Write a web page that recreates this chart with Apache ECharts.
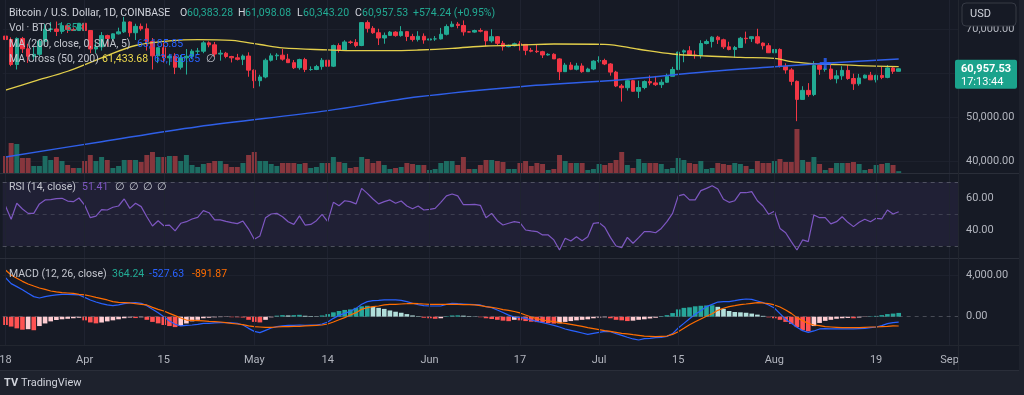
<!DOCTYPE html>
<html><head><meta charset="utf-8">
<script src="https://cdn.jsdelivr.net/npm/echarts/dist/echarts.min.js"></script>
<style>html,body{margin:0;padding:0;background:#161a25;}#c{width:1024px;height:395px;}</style>
</head><body><div id="c"></div>
<script>
// ---------- DATA ----------
const firstDay = '2024-03-18';
const categoryCount = 169; // Mar 18 .. Sep 2 (empty days on the right)
const categories = [];
(function () {
  const d0 = Date.parse(firstDay + 'T00:00:00Z');
  for (let k = 0; k < categoryCount; k++) categories.push(new Date(d0 + k * 86400000).toISOString().slice(0, 10));
})();

const tickLabels = [['2024-03-18','18'],['2024-04-01','Apr'],['2024-04-15','15'],['2024-05-01','May'],['2024-05-14','14'],['2024-06-01','Jun'],['2024-06-17','17'],['2024-07-01','Jul'],['2024-07-15','15'],['2024-08-01','Aug'],['2024-08-19','19'],['2024-09-01','Sep']];

// daily [open, high, low, close] from Mar 18
const ohlc = [
[68390,68950,66600,67600],[67600,68100,61550,61930],[61930,68100,60800,67850],[67850,68200,64550,65500],[65500,66650,62300,63800],[63800,65950,63000,64250],[64250,67600,63800,67200],
[67200,71150,66400,69950],[69950,71550,69300,70000],[70000,71700,68400,69450],[69450,71550,68900,70750],[70750,70900,69100,69900],[69900,70350,69550,69650],[69650,71350,69600,71300],
[71300,71300,68100,69650],[69650,69650,64500,65450],[65450,66900,64500,65950],[65950,69300,65100,68500],[68500,68700,66000,67850],[67850,69000,67450,68900],[68900,70300,68750,69350],
[69350,72750,69100,71600],[71600,71750,68250,69150],[69150,71200,67500,70600],[70600,71250,69600,70050],[70050,71250,65100,67150],[67150,67950,60800,63900],[63900,65800,62250,65750],
[65750,66900,62350,63450],[63450,64350,61750,63800],[63800,64500,59750,61300],[61300,64100,60800,63450],[63450,65450,59650,63800],[63800,65400,63150,64950],[64950,65700,64300,64950],
[64950,67250,64500,66850],[66850,67200,65850,66400],[66400,67050,63650,64300],[64300,65250,62800,64500],[64500,64800,63350,63750],[63750,63900,62400,63450],[63450,64350,62850,63100],
[63100,64200,61800,63850],[63850,64700,59150,60650],[60650,60800,56550,58250],[58250,59600,56950,59100],[59100,63300,58800,62900],[62900,64450,62600,63900],[63900,64500,62950,64050],
[64050,65450,62800,63150],[63150,64350,62350,62350],[62350,62950,60900,61200],[61200,63250,60750,63050],[63050,63450,60200,60800],[60800,61500,60500,60800],[60800,61850,60650,61450],
[61450,63400,60750,62900],[62900,63100,60800,61550],[61550,66450,61350,66250],[66250,66750,64650,65250],[65250,67450,65150,67050],[67050,67400,66600,66950],[66950,67700,65850,66250],
[66250,71500,66100,71450],[71450,71950,69200,70150],[70150,70650,68900,69150],[69150,70050,66350,67950],[67950,69200,66650,68550],[68550,69550,68500,69300],[69300,69500,68250,68500],
[68500,70650,68250,69400],[69400,69550,67250,68300],[68300,68900,67150,67600],[67600,69500,67150,68350],[68350,69000,66650,67500],[67500,67850,67400,67750],[67750,68400,67300,67750],
[67750,70250,67600,68800],[68800,71050,68550,70550],[70550,71750,70400,71100],[71100,71600,70150,70800],[70800,71950,68500,69350],[69350,69550,69250,69300],[69300,69850,69150,69650],
[69650,70150,69250,69500],[69500,69550,66100,67300],[67300,69950,66900,68250],[68250,68400,66300,66750],[66750,67300,65100,66000],[66000,66450,65850,66200],[66200,66900,66050,66650],
[66650,67250,65100,66500],[66500,66550,64050,65150],[65150,65700,64700,64950],[64950,66450,64550,64850],[64850,65050,63400,64100],[64100,64500,63950,64250],[64250,64500,63200,63200],
[63200,63350,58400,60300],[60300,62300,60300,61800],[61800,62450,60650,60850],[60850,62300,60600,61600],[61600,62200,60050,60300],[60300,61200,60300,60900],[60900,62900,60650,62700],
[62700,63800,62350,62850],[62850,63250,61800,62050],[62050,62250,59400,60200],[60200,60500,56800,57050],[57050,57500,53500,56650],[56650,58500,56000,58250],[58250,58450,55750,55850],
[55850,58250,54300,56700],[56700,58300,56300,58050],[58050,59450,57200,57750],[57750,59350,57050,57350],[57350,58550,56600,57900],[57900,59850,57750,59250],[59250,61400,59250,60800],
[60800,64850,60650,64750],[64750,65350,62450,65050],[65050,66100,64000,64100],[64100,65100,63250,63950],[63950,67450,63300,66700],[66700,67600,66500,67150],[67150,68350,65800,68150],
[68150,68450,66600,67550],[67550,67800,65450,65950],[65950,67100,65150,65350],[65350,66150,63450,65800],[65800,68200,65750,67900],[67900,69400,66700,67800],[67800,68300,67050,68250],
[68250,70050,66550,66800],[66800,66950,65350,66200],[66200,66800,64550,64600],[64600,65650,62300,65350],[65350,65600,61250,61500],[61500,62200,59850,60700],[60700,61100,57200,58100],
[58100,58300,49050,54000],[54000,57000,54000,56050],[56050,57700,54600,55100],[55100,62700,54750,61700],[61700,61750,59600,60850],[60850,61450,60300,60900],[60900,61800,58450,58700],
[58700,60650,57650,59350],[59350,61550,58450,60600],[60600,61800,58450,58750],[58750,59850,56150,57550],[57550,59800,57100,58850],[58850,59650,58800,59500],[59500,60250,58450,58450],
[58450,59600,57850,59450],[59450,61400,58600,59000],[59000,61800,58800,61150],[61150,61400,59800,60383.29],[60383.28,61098.08,60343.20,60957.53]
];

// volume, thousand BTC
const volume = [
17,30,29,15,15,7,7,17,13,16,12,8,5,5,12,18,12,16,13,5,
7,13,13,13,11,18,21,16,16,17,17,12,18,8,6,9,10,12,12,9,
6,6,10,18,21,12,12,9,7,10,10,10,9,10,5,6,10,10,16,11,
10,5,6,16,14,10,12,8,4,5,6,10,9,8,8,3,4,10,12,12,
8,16,4,4,8,13,13,12,11,4,4,10,12,7,10,9,3,4,18,12,
10,10,10,3,4,9,8,10,13,21,8,5,14,10,10,10,9,4,5,15,
13,10,9,12,4,5,10,9,8,10,9,7,4,12,10,10,12,14,11,11,
44,13,11,16,9,3,5,10,10,10,11,9,3,4,8,9,10,8,1.85
];

// MA (50) yellow and MA (200) blue, read at sample days
const ma50 = [['2024-03-18',56100],['2024-03-23',58100],['2024-03-29',60400],['2024-04-04',63450],['2024-04-10',66250],['2024-04-16',67300],['2024-04-21',67600],['2024-04-27',67400],['2024-05-02',66480],['2024-05-06',65700],['2024-05-14',65250],['2024-05-19',65070],['2024-05-25',65070],['2024-05-30',65230],['2024-06-05',65600],['2024-06-11',66140],['2024-06-17',66360],['2024-06-23',66590],['2024-07-02',66520],['2024-07-08',65400],['2024-07-14',64320],['2024-07-20',63860],['2024-07-26',63570],['2024-08-01',63330],['2024-08-04',62570],['2024-08-07',62200],['2024-08-10',62050],['2024-08-16',61660],['2024-08-23',61433.68]];
const ma200 = [['2024-03-18',40900],['2024-04-04',44400],['2024-04-21',47800],['2024-05-14',51450],['2024-05-30',54600],['2024-06-17',56900],['2024-07-05',58450],['2024-07-20',60300],['2024-08-01',61430],['2024-08-10',62200],['2024-08-23',63180]];
const crossPoint = [['2024-08-10',62150]];

const rsi = [
55.0,46.7,56.7,53.1,50.4,50.4,56.3,58.8,59.0,59.6,59.8,58.1,57.7,60.0,55.6,47.7,48.7,52.7,52.5,54.2,
55.0,59.4,53.5,56.7,54.6,48.3,42.5,45.8,42.7,43.1,39.4,44.2,45.2,46.9,47.9,52.1,50.8,46.3,46.3,45.4,
44.6,44.0,45.6,40.6,34.2,36.3,47.7,50.0,50.4,48.3,45.2,43.5,48.8,43.1,43.5,45.8,49.8,45.2,57.3,55.2,
58.3,57.7,56.3,66.0,62.9,59.4,56.3,57.7,58.8,56.7,58.1,55.0,53.3,55.0,52.5,52.9,53.5,57.3,61.3,62.5,
61.3,55.8,55.8,56.0,55.4,47.7,50.4,45.8,43.1,44.2,45.2,44.6,40.0,39.4,39.0,36.9,36.9,33.8,27.5,34.8,
33.1,35.8,33.3,35.8,44.2,44.6,41.7,35.4,30.0,29.0,35.4,31.7,35.2,39.0,39.0,38.3,41.0,45.2,50.4,61.3,
62.3,58.8,58.8,64.6,66.0,67.7,65.6,59.2,57.3,58.3,63.3,63.3,64.0,58.3,55.0,49.8,51.7,41.0,38.3,32.7,
27.5,33.8,32.7,49.4,47.7,47.7,43.8,45.2,48.3,44.8,42.1,44.8,46.7,45.2,47.3,46.9,52.5,50.0,51.41
];

const macd = [
3750,3180,2890,2600,2250,1930,1800,1930,2020,2090,2150,2150,2120,2090,1860,1610,1410,1250,1130,1060,
1130,1250,1320,1350,1290,1060,710,390,0,-410,-730,-890,-830,-800,-730,-640,-640,-600,-570,-570,
-600,-640,-800,-1120,-1410,-1530,-1310,-1090,-960,-890,-830,-830,-800,-830,-800,-800,-700,-510,-160,130,
320,520,800,1190,1450,1540,1570,1610,1610,1610,1570,1450,1290,1160,1060,1030,1030,1030,1190,1290,
1250,1220,1190,1160,1130,960,870,650,400,150,-30,-60,-160,-320,-450,-570,-700,-830,-990,-1180,
-1310,-1440,-1570,-1700,-1600,-1500,-1410,-1440,-1630,-1790,-1980,-2140,-2240,-2110,-2080,-2020,-1980,-1890,-1630,-1090,
-640,-190,230,580,970,1190,1410,1450,1450,1540,1640,1700,1670,1510,1350,1130,840,290,-250,-640,
-1020,-1340,-1500,-1370,-1180,-1150,-1180,-1180,-1180,-1180,-1180,-1150,-1120,-1050,-990,-860,-670,-570,-527.63
];
const signal = [
4490,4010,3690,3400,3150,2950,2760,2630,2470,2380,2310,2280,2250,2150,2090,1990,1860,1740,1610,1450,
1380,1350,1320,1250,1190,1130,900,710,550,320,100,-130,-320,-350,-380,-410,-450,-480,-510,-570,
-640,-700,-770,-890,-960,-990,-1020,-1020,-990,-960,-960,-930,-930,-890,-860,-830,-800,-700,-510,-290,
-90,160,390,710,870,970,1030,1130,1190,1190,1220,1250,1290,1250,1220,1190,1190,1190,1190,1190,
1190,1160,1160,1130,1060,970,900,810,680,600,500,360,160,-30,-190,-320,-410,-480,-570,-640,
-730,-830,-930,-1050,-1150,-1250,-1340,-1410,-1500,-1600,-1660,-1730,-1790,-1860,-1890,-1920,-1890,-1860,-1700,-1440,
-1120,-770,-480,-220,40,290,610,810,970,1060,1160,1220,1290,1350,1320,1250,1130,930,650,320,
-90,-380,-640,-800,-860,-960,-990,-1020,-1050,-1050,-1050,-1050,-1020,-990,-990,-960,-930,-890,-891.87
];
const hist = [
-800,-950,-1120,-1250,-1200,-1300,-900,-650,-450,-320,-250,-200,-150,-100,-350,-550,-640,-560,-450,-350,
-250,-150,-80,-130,-60,-300,-500,-640,-800,-900,-1000,-880,-650,-450,-300,-150,-100,-60,-40,-30,
-50,-60,-80,-300,-500,-550,-300,-60,100,150,120,150,180,90,60,40,120,250,420,550,
650,700,850,1000,1050,950,850,750,600,480,380,250,120,50,-100,-150,-200,-150,50,120,
130,100,60,30,-50,-150,-220,-300,-380,-430,-300,-350,-420,-480,-520,-560,-620,-660,-640,-500,
-420,-350,-300,-250,-150,-80,-60,-150,-300,-350,-420,-380,-300,-250,-170,-100,60,150,350,700,
850,900,1000,1050,1080,1100,950,750,550,450,420,380,300,200,80,-60,-150,-300,-500,-700,
-1000,-1300,-1400,-900,-600,-400,-300,-200,-150,-120,-150,-80,-30,40,80,150,250,300,364.24
];

// ---------- CHART ----------
const BG = '#161a25';
const UP = '#22ab94', DOWN = '#f23645';
const FONT = 'Roboto, sans-serif';
const L = 2.67, W = 955.4;
const tickMap = new Map(tickLabels);

const chart = echarts.init(document.getElementById('c'), null, { renderer: 'canvas' });

const candleData = ohlc.map(r => [r[0], r[3], r[2], r[1]]);
const volData = volume.map((v, k) => ({ value: v, itemStyle: { color: ohlc[k][3] >= ohlc[k][0] ? '#1d6c62' : '#87363d' } }));
const histData = hist.map((v, k) => {
  const p = k > 0 ? hist[k - 1] : 0;
  let c;
  if (v >= 0) c = v > p ? '#26a69a' : '#b2dfdb'; else c = v < p ? '#ff5252' : '#ffcdd2';
  return { value: v, itemStyle: { color: c } };
});

function gridBox(top, height) { return { left: L, width: W, top: top, height: height, outerBoundsMode: 'none', containLabel: false, show: false }; }
function hiddenX(gi) { return { type: 'category', gridIndex: gi, data: categories, boundaryGap: true, show: false }; }
const yLab = { color: '#b2b5be', fontSize: 11, fontFamily: FONT, margin: 8 };
const fmt2 = v => v.toLocaleString('en-US', { minimumFractionDigits: 2, maximumFractionDigits: 2 });

const option = {
  backgroundColor: BG,
  animation: false,
  textStyle: { fontFamily: FONT },
  grid: [gridBox(-15, 220), gridBox(127, 46), gridBox(166, 96), gridBox(233.5, 124.8), gridBox(0, 345)],
  xAxis: [hiddenX(0), hiddenX(1), hiddenX(2), hiddenX(3), {
    type: 'category', gridIndex: 4, data: categories, boundaryGap: true,
    axisLine: { show: false }, axisTick: { show: false }, splitLine: { show: false },
    axisLabel: { interval: (i, v) => tickMap.has(v), formatter: v => tickMap.get(v) || '', color: '#b2b5be', fontSize: 11, fontFamily: FONT, margin: 10, hideOverlap: false }
  }],
  yAxis: [
    { type: 'value', gridIndex: 0, position: 'right', min: 30000, max: 80000, interval: 10000,
      axisLine: { show: false }, axisTick: { show: false },
      axisLabel: Object.assign({}, yLab, { formatter: v => (v >= 40000 && v <= 70000) ? fmt2(v) : '' }),
      splitLine: { show: true, lineStyle: { color: ['rgba(0,0,0,0)', '#1d212d', '#1d212d', '#1d212d', '#1d212d', 'rgba(0,0,0,0)'], width: 1 } } },
    { type: 'value', gridIndex: 1, min: 0, max: 46, show: false, splitLine: { show: false } },
    { type: 'value', gridIndex: 2, position: 'right', min: 20, max: 80, interval: 20,
      axisLine: { show: false }, axisTick: { show: false }, splitLine: { show: false },
      axisLabel: Object.assign({}, yLab, { formatter: v => (v === 40 || v === 60) ? v.toFixed(2) : '' }) },
    { type: 'value', gridIndex: 3, position: 'right', min: -4000, max: 8000, interval: 4000,
      axisLine: { show: false }, axisTick: { show: false },
      axisLabel: Object.assign({}, yLab, { formatter: v => (v === 0 || v === 4000) ? fmt2(v) : '' }),
      splitLine: { show: true, lineStyle: { color: ['rgba(0,0,0,0)', 'rgba(0,0,0,0)', '#1d212d', 'rgba(0,0,0,0)'] } } },
    { type: 'value', gridIndex: 4, min: 0, max: 1, show: false }
  ],
  series: [
    { name: 'grid', type: 'line', xAxisIndex: 4, yAxisIndex: 4, data: [], silent: true, z: 0,
      markLine: { silent: true, symbol: 'none', label: { show: false }, lineStyle: { color: '#1f2330', width: 1, type: 'solid' },
        data: tickLabels.map(t => ({ xAxis: t[0] })) } },
    { name: 'Volume', type: 'bar', xAxisIndex: 1, yAxisIndex: 1, data: volData, barCategoryGap: '12%', z: 1 },
    { name: 'BTC', type: 'candlestick', xAxisIndex: 0, yAxisIndex: 0, data: candleData, barWidth: 4, z: 3,
      itemStyle: { color: UP, color0: DOWN, borderColor: UP, borderColor0: DOWN, borderWidth: 1 } },
    { name: 'MA50', type: 'line', xAxisIndex: 0, yAxisIndex: 0, data: ma50, smooth: 0.35, showSymbol: false, symbol: 'none', z: 4,
      lineStyle: { color: '#e3cf4b', width: 1.3 } },
    { name: 'MA200', type: 'line', xAxisIndex: 0, yAxisIndex: 0, data: ma200, smooth: 0.35, showSymbol: false, symbol: 'none', z: 4,
      lineStyle: { color: '#2f5fe8', width: 1.5 } },
    { name: 'Cross', type: 'scatter', xAxisIndex: 0, yAxisIndex: 0, data: crossPoint, z: 5,
      symbol: 'path://M4,0H7V4H11V7H7V11H4V7H0V4H4Z', symbolSize: 11, itemStyle: { color: '#2962ff' } },
    { name: 'RSI', type: 'line', xAxisIndex: 2, yAxisIndex: 2, data: rsi, showSymbol: false, symbol: 'none', z: 4,
      lineStyle: { color: '#7e57c2', width: 1.2 },
      markArea: { silent: true, itemStyle: { color: 'rgba(126,87,194,0.1)' }, data: [[{ yAxis: 30 }, { yAxis: 70 }]] },
      markLine: { silent: true, symbol: 'none', label: { show: false },
        data: [
          { yAxis: 70, lineStyle: { color: '#787b86', opacity: 0.55, type: [4, 4], width: 1 } },
          { yAxis: 50, lineStyle: { color: '#787b86', opacity: 0.35, type: [4, 4], width: 1 } },
          { yAxis: 30, lineStyle: { color: '#787b86', opacity: 0.55, type: [4, 4], width: 1 } }
        ] } },
    { name: 'Histogram', type: 'bar', xAxisIndex: 3, yAxisIndex: 3, data: histData, barCategoryGap: '18%', z: 2 },
    { name: 'MACD', type: 'line', xAxisIndex: 3, yAxisIndex: 3, data: macd, showSymbol: false, symbol: 'none', z: 4,
      lineStyle: { color: '#2962ff', width: 1.2 },
      markLine: { silent: true, symbol: 'none', label: { show: false },
        data: [{ yAxis: 0, lineStyle: { color: '#787b86', opacity: 0.5, type: [4, 4], width: 1 } }] } },
    { name: 'Signal', type: 'line', xAxisIndex: 3, yAxisIndex: 3, data: signal, showSymbol: false, symbol: 'none', z: 4,
      lineStyle: { color: '#ff6d00', width: 1.2 } }
  ]
};
chart.setOption(option);

// ---------- overlay text / price tag ----------
function txt(x, y, s, color, size, weight) {
  return { type: 'text', x: x, y: y, z: 100, silent: true,
    style: { text: s, fill: color, fontSize: size || 10.5, fontFamily: FONT, fontWeight: weight || 'normal', verticalAlign: 'middle', align: 'left' } };
}
const G = '#c3c6ce';
const last = ohlc[ohlc.length - 1];
const prevClose = ohlc[ohlc.length - 2][3];
const chg = last[3] - prevClose;
const tagY = chart.convertToPixel({ yAxisIndex: 0 }, last[3]);
const graphics = [
  { type: 'rect', z: 90, silent: true, shape: { x: 0, y: 371, width: 1024, height: 24 }, style: { fill: '#1e222d' } },
  { type: 'rect', z: 90, silent: true, shape: { x: 1019, y: 0, width: 5, height: 395 }, style: { fill: '#1e222d' } },
  { type: 'line', z: 90, silent: true, shape: { x1: 0, y1: 173.5, x2: 1019, y2: 173.5 }, style: { stroke: '#2a2e39', lineWidth: 1 } },
  { type: 'line', z: 90, silent: true, shape: { x1: 0, y1: 258.5, x2: 1019, y2: 258.5 }, style: { stroke: '#2a2e39', lineWidth: 1 } },
  { type: 'line', z: 90, silent: true, shape: { x1: 0, y1: 345.5, x2: 1019, y2: 345.5 }, style: { stroke: '#22262f', lineWidth: 1 } },
  { type: 'line', z: 90, silent: true, shape: { x1: 0, y1: 370.5, x2: 1019, y2: 370.5 }, style: { stroke: '#2a2e39', lineWidth: 1 } },
  { type: 'line', z: 90, silent: true, shape: { x1: 958.5, y1: 0, x2: 958.5, y2: 370 }, style: { stroke: '#22262f', lineWidth: 1 } },
  // USD box
  { type: 'rect', z: 95, silent: true, shape: { x: 962, y: 3, width: 54, height: 23, r: 4 }, style: { fill: BG, stroke: '#363a45', lineWidth: 1 } },
  txt(970, 14.5, 'USD', '#d1d4dc', 11),
  // price tag
  { type: 'rect', z: 95, silent: true, shape: { x: 955, y: tagY - 9, width: 62, height: 29, r: 2 }, style: { fill: '#1ba38c' } },
  txt(961, tagY, fmt2(last[3]), '#ffffff', 11, 'bold'),
  txt(961, tagY + 13, '17:13:44', '#ffffff', 11),
  // header legend
  txt(9, 13, 'Bitcoin / U.S. Dollar, 1D, COINBASE', '#d1d4dc'),
  txt(180, 13, 'O', '#d1d4dc'), txt(187, 13, fmt2(last[0]), UP),
  txt(238, 13, 'H', '#d1d4dc'), txt(245, 13, fmt2(last[1]), UP),
  txt(297, 13, 'L', '#d1d4dc'), txt(303, 13, fmt2(last[2]), UP),
  txt(355, 13, 'C', '#d1d4dc'), txt(362, 13, fmt2(last[3]), UP),
  txt(413, 13, '+' + fmt2(chg) + ' (+' + (chg / prevClose * 100).toFixed(2) + '%)', UP),
  txt(9, 28, 'Vol · BTC', G), txt(57, 28, volume[volume.length - 1].toFixed(2) + 'K', UP),
  txt(9, 44, 'MA (200, close, 0, SMA, 5)', G), txt(137, 44, '63,185.85', '#2962ff'),
  txt(9, 59, 'MA Cross (50, 200)', G), txt(102, 59, fmt2(ma50[ma50.length - 1][1]), '#f0dc4e'),
  txt(154, 59, '63,185.85', '#2962ff'), txt(206, 59, '∅', G),
  txt(9, 187, 'RSI (14, close)', G), txt(82, 187, rsi[rsi.length - 1].toFixed(2), '#7e57c2'),
  txt(115, 187, '∅', G), txt(129, 187, '∅', G), txt(143, 187, '∅', G), txt(157, 187, '∅', G),
  txt(9, 274, 'MACD (12, 26, close)', G), txt(112, 274, fmt2(hist[hist.length - 1]), UP),
  txt(149, 274, fmt2(macd[macd.length - 1]), '#2962ff'), txt(192, 274, fmt2(signal[signal.length - 1]), '#ff6d00'),
  // logo
  txt(4, 383, 'TV', '#d1d4dc', 11, 'bold'), txt(21, 383, 'TradingView', '#d1d4dc', 11)
];
chart.setOption({ graphic: graphics });
</script></body></html>
